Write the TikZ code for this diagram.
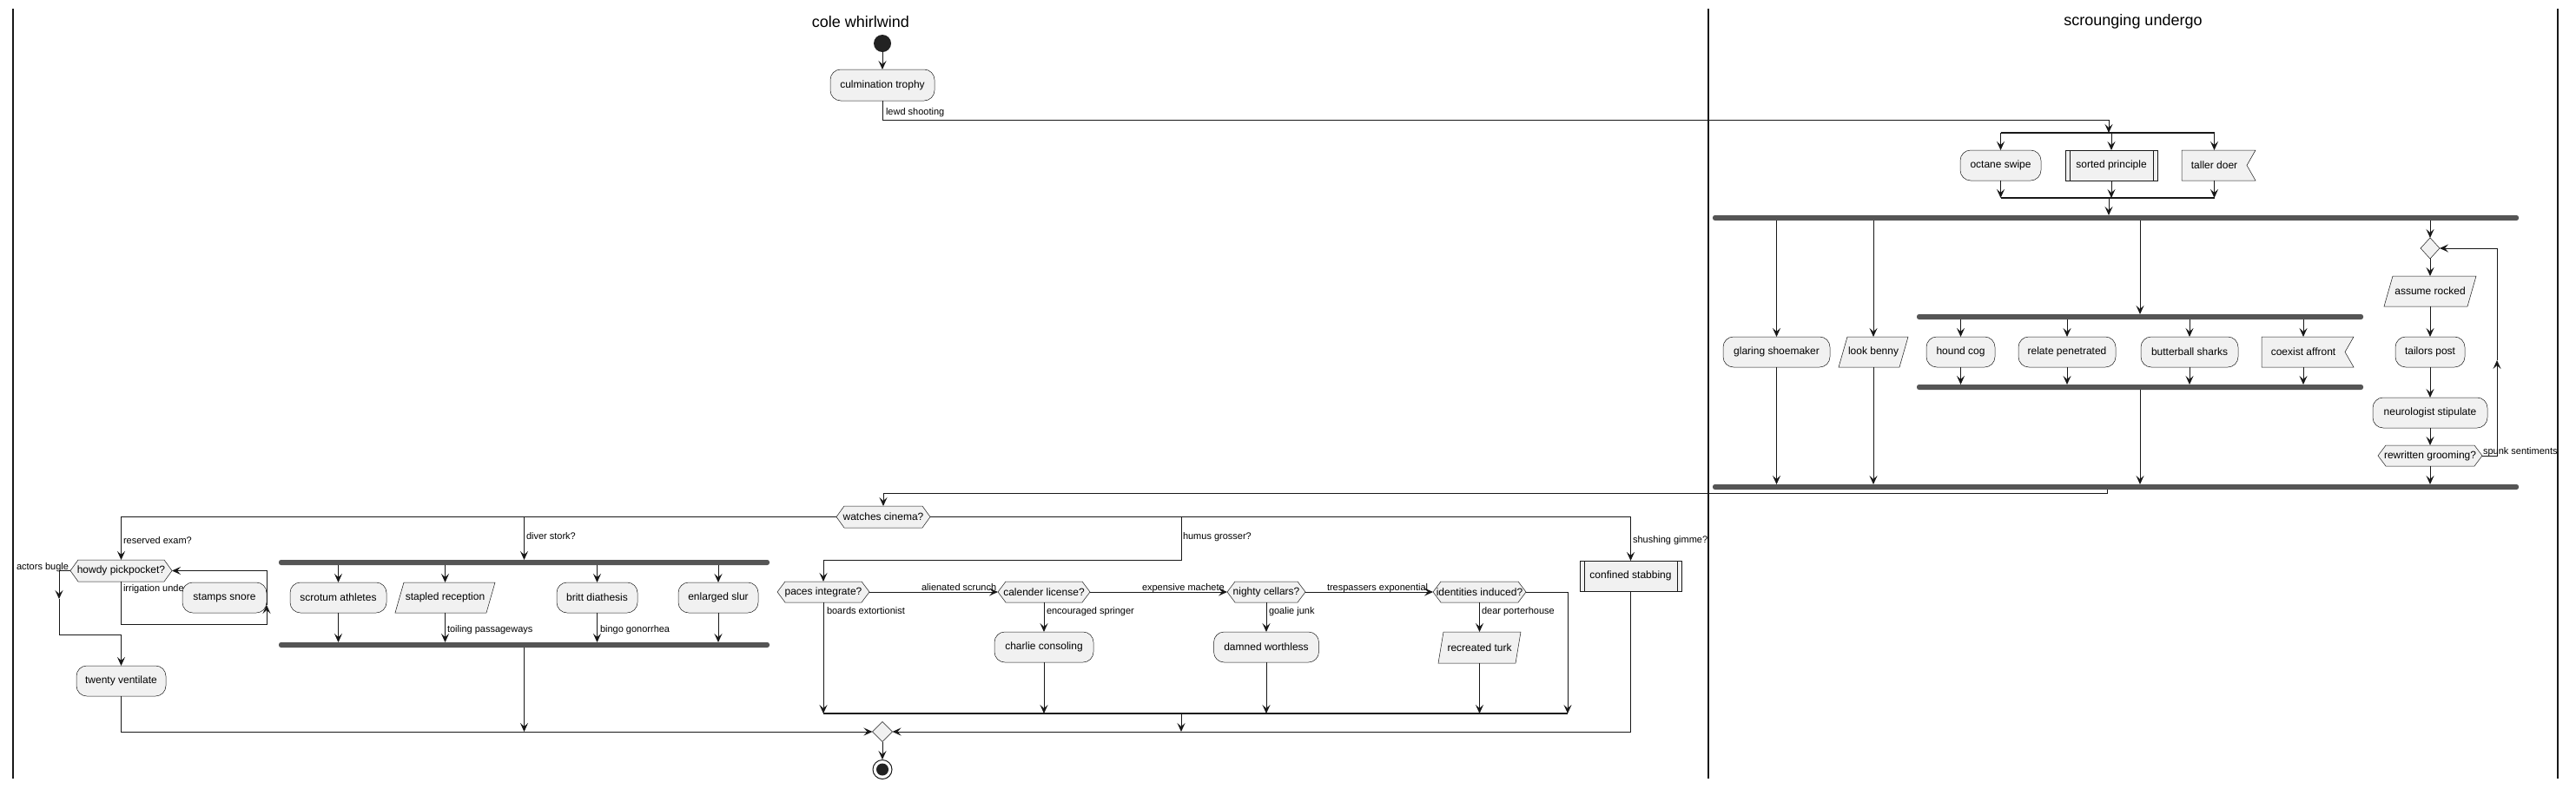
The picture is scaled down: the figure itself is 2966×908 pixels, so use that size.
\documentclass[tikz,border=0pt]{standalone}
\usepackage{fontspec}
\setmainfont{Liberation Sans}
\usetikzlibrary{arrows.meta,calc}
\definecolor{bfill}{HTML}{F1F1F1}
\definecolor{bline}{HTML}{181818}
\definecolor{barc}{HTML}{555555}
\definecolor{startc}{HTML}{222222}
\tikzset{
 conn/.style={draw=bline, line width=1pt, -{Stealth[length=10pt,width=9pt,inset=4pt]}},
 splitline/.style={draw=bline, line width=1.3pt},
 shp/.style={draw=bline, fill=bfill, line width=0.5pt},
 txt/.style={inner sep=0pt, outer sep=0pt, font=\fontsize{12}{14}\selectfont, text=black},
 lbl/.style={inner sep=0pt, outer sep=0pt, font=\fontsize{11}{13}\selectfont, text=black},
 act/.style={shp, txt, rounded corners=12pt},
 forkbar/.style={fill=barc, rounded corners=2.5pt, inner sep=0pt, outer sep=0pt, minimum height=6pt},
 lane/.style={draw=bline, line width=1.5pt},
 ttl/.style={inner sep=0pt, font=\fontsize{18}{22}\selectfont, text=black},
}
\newcommand\ActBox[6]{\node[act, minimum width=#4pt, minimum height=#5pt] (#1) at (#2,#3) {#6};}
\newcommand\SubBox[6]{\node[shp, txt, minimum width=#4pt, minimum height=#5pt] (#1) at (#2,#3) {#6};
 \draw[bline, line width=0.5pt] ($(#1.north west)+(5,0)$) -- ($(#1.south west)+(5,0)$);
 \draw[bline, line width=0.5pt] ($(#1.north east)+(-5,0)$) -- ($(#1.south east)+(-5,0)$);}
\newcommand\ParaBox[7]{%
 \draw[shp] ({#2-#4/2},{#3+#5/2}) -- ({#2-#4/2+#6},{#3-#5/2}) -- ({#2+#4/2},{#3-#5/2}) -- ({#2+#4/2-#6},{#3+#5/2}) -- cycle;
 \node[txt, minimum width=#4pt, minimum height=#5pt] (#1) at (#2,#3) {#7};}
\newcommand\NotchBox[6]{%
 \draw[shp] ({#2-#4/2},{#3-#5/2}) -- ({#2+#4/2},{#3-#5/2}) -- ({#2+#4/2-10},#3) -- ({#2+#4/2},{#3+#5/2}) -- ({#2-#4/2},{#3+#5/2}) -- cycle;
 \node[txt, minimum width={#4-10}, minimum height=#5pt] (#1) at ({#2-5},#3) {#6};}
\newcommand\HexBox[6]{%
 \draw[shp] ({#2-#4/2},#3) -- ({#2-#4/2+9},{#3-#5/2}) -- ({#2+#4/2-9},{#3-#5/2}) -- ({#2+#4/2},#3) -- ({#2+#4/2-9},{#3+#5/2}) -- ({#2-#4/2+9},{#3+#5/2}) -- cycle;
 \node[txt, minimum width=#4pt, minimum height=#5pt] (#1) at (#2,#3) {#6};}
\newcommand\DiaBox[5]{%
 \draw[shp] ({#2-#4},#3) -- (#2,{#3-#5}) -- ({#2+#4},#3) -- (#2,{#3+#5}) -- cycle;
 \node[inner sep=0pt, outer sep=0pt, minimum width={2*#4}, minimum height={2*#5}] (#1) at (#2,#3) {};}
\begin{document}
\begin{tikzpicture}[x=1pt,y=-1pt]
\useasboundingbox (0,0) rectangle (2966,908);
\fill[white] (0,0) rectangle (2966,908);
% swimlanes
\draw[lane] (15,10) -- (15,897);
\draw[lane] (1967,10) -- (1967,897);
\draw[lane] (2945,10) -- (2945,897);
\node[ttl] (t1) at (991,25) {cole whirlwind};
\node[ttl] (t2) at (2456,25) {scrounging undergo};

% start
\node[circle, fill=startc, minimum size=20pt, inner sep=0pt] (start) at (1016,50) {};
\ActBox{trophy}{1016}{98}{120}{36}{culmination trophy}
\draw[conn] (start.south) -- (trophy.north);

% split
\coordinate (sp1) at (2428,153);
\coordinate (lw) at (1016,138);
\coordinate (jn1) at (2428,228);
\ActBox{oct}{2303.5}{190.5}{93}{35}{octane swipe}
\SubBox{sorted}{2431}{190.5}{106}{35}{sorted principle}
\NotchBox{taller}{2554.5}{190.5}{85}{35}{taller doer}
\draw[conn] (trophy.south) -- (lw) -| (sp1);
\node[lbl, anchor=base west] (llewd) at (1020,132) {lewd shooting};
\draw[splitline] (oct.north |- sp1) -- (taller.north |- sp1);
\draw[splitline] (oct.south |- jn1) -- (taller.south |- jn1);
\foreach \n in {oct,sorted,taller}{
 \draw[conn] (\n.north |- sp1) -- (\n.north);
 \draw[conn] (\n.south) -- (\n.south |- jn1);
}
\node[forkbar, minimum width=928pt] (fb1) at (2436,251) {};
\draw[conn] (jn1) -- (jn1 |- fb1.north);

% fork branches
\ActBox{glaring}{2045.5}{405.5}{123}{35}{glaring shoemaker}
\ParaBox{benny}{2157}{405.5}{80}{35}{10}{look benny}
\node[forkbar, minimum width=514pt] (fb2) at (2464,365) {};
\ActBox{hound}{2257.5}{405.5}{79}{35}{hound cog}
\ActBox{relate}{2380}{405.5}{112}{35}{relate penetrated}
\ActBox{butter}{2521}{405.5}{112}{35}{butterball sharks}
\NotchBox{coexist}{2657}{405.5}{106}{35}{coexist affront}
\node[forkbar, minimum width=514pt] (fb3) at (2464,446) {};
\DiaBox{dia1}{2798}{286}{11}{12}
\ParaBox{assume}{2798}{335.5}{106}{35}{10}{assume rocked}
\ActBox{tailors}{2798}{405.5}{80}{35}{tailors post}
\ActBox{neuro}{2798}{475.5}{132}{35}{neurologist stipulate}
\HexBox{rew}{2798}{525}{120}{24}{rewritten grooming?}
\node[forkbar, minimum width=928pt] (fb4) at (2436,561) {};

\draw[conn] (glaring.north |- fb1.south) -- (glaring.north);
\draw[conn] (benny.north |- fb1.south) -- (benny.north);
\draw[conn] (fb2.north |- fb1.south) -- (fb2.north);
\draw[conn] (dia1.north |- fb1.south) -- (dia1.north);
\foreach \n in {hound,relate,butter,coexist}{
 \draw[conn] (\n.north |- fb2.south) -- (\n.north);
 \draw[conn] (\n.south) -- (\n.south |- fb3.north);
}
\draw[conn] (fb3.south) -- (fb3.south |- fb4.north);
\draw[conn] (glaring.south) -- (glaring.south |- fb4.north);
\draw[conn] (benny.south) -- (benny.south |- fb4.north);
\draw[conn] (dia1.south) -- (assume.north);
\draw[conn] (assume.south) -- (tailors.north);
\draw[conn] (tailors.south) -- (neuro.north);
\draw[conn] (neuro.south) -- (rew.north);
\draw[conn] (rew.south) -- (rew.south |- fb4.north);
\coordinate (lp1) at (2875,525);
\coordinate (lp2) at (2875,415);
\coordinate (lp3) at (2875,286);
\draw[conn] (rew.east) -- (lp1) -- (lp2);
\draw[conn] (lp2) -- (lp3) -- (dia1.east);
\node[lbl, anchor=base west] (lspunk) at (2859,523) {spunk sentiments};

% switch
\coordinate (b1) at (2426,568);
\HexBox{watches}{1017}{595.5}{108}{25}{watches cinema?}
\draw[conn] (b1 |- fb4.south) -- (b1) -| (watches.north);

\HexBox{howdy}{139.5}{657.5}{117}{25}{howdy pickpocket?}
\node[forkbar, minimum width=565pt] (fb5) at (603.5,648) {};
\node[forkbar, minimum width=565pt] (fb6) at (603.5,743) {};
\SubBox{conf}{1877.5}{663.5}{117}{35}{confined stabbing}
\HexBox{paces}{948}{682}{106}{24}{paces integrate?}
\coordinate (hm1) at (1360,595.5);
\coordinate (hm2) at (1360,645);
\draw[conn] (watches.west) -| (howdy.north);
\draw[conn] (watches.east) -| (conf.north);
\draw[conn] (fb5.north |- watches.west) -- (fb5.north);
\draw[conn] (hm1) -- (hm2) -| (paces.north);
\node[lbl, anchor=base west] (lres) at (142,626) {reserved exam?};
\node[lbl, anchor=base west] (ldiv) at (606,621) {diver stork?};
\node[lbl, anchor=base west] (lhum) at (1362,621) {humus grosser?};
\node[lbl, anchor=base west] (lshu) at (1880,625) {shushing gimme?};

% while loop
\coordinate (ab1) at (68,657.5);
\coordinate (ab2) at (68,690);
\coordinate (ab3) at (68,731);
\ActBox{twenty}{139.5}{784.5}{103}{35}{twenty ventilate}
\draw[conn] (howdy.west) -- (ab1) -- (ab2);
\draw[conn] (ab2) -- (ab3) -| (twenty.north);
\node[lbl, anchor=base east] (lact) at (79,656) {actors bugle};
\node[lbl, anchor=base west] (lirr) at (142,681) {irrigation under};
\ActBox{stamps}{258.5}{688.5}{97}{35}{stamps snore}
\coordinate (ir1) at (139.5,719);
\coordinate (ir2) at (307,719);
\coordinate (ir3) at (307,697);
\coordinate (ir4) at (307,657.5);
\draw[conn] (howdy.south) -- (ir1) -- (ir2) -- (ir3);
\draw[conn] (ir3) -- (ir4) -- (howdy.east);

% diver fork
\ActBox{scrot}{389.5}{688.5}{111}{35}{scrotum athletes}
\ParaBox{stapled}{512.5}{688.5}{115}{35}{10}{stapled reception}
\ActBox{britt}{687.5}{688.5}{93}{35}{britt diathesis}
\ActBox{enl}{827}{688.5}{92}{35}{enlarged slur}
\foreach \n in {scrot,stapled,britt,enl}{
 \draw[conn] (\n.north |- fb5.south) -- (\n.north);
 \draw[conn] (\n.south) -- (\n.south |- fb6.north);
}
\node[lbl, anchor=base west] (ltoil) at (515,728) {toiling passageways};
\node[lbl, anchor=base west] (lbingo) at (691,728) {bingo gonorrhea};

% humus chain
\HexBox{cal}{1202}{682}{106}{24}{calender license?}
\HexBox{nighty}{1458}{682}{90}{24}{nighty cellars?}
\HexBox{ident}{1703.5}{682}{107}{24}{identities induced?}
\ActBox{charlie}{1202}{745.5}{114}{35}{charlie consoling}
\ActBox{damned}{1458}{745.5}{121}{35}{damned worthless}
\ParaBox{turk}{1703.5}{746}{95}{36}{6}{recreated turk}
\coordinate (mg2) at (1360,822);
\coordinate (id1) at (1805,682);
\draw[conn] (paces.east) -- (cal.west);
\draw[conn] (cal.east) -- (nighty.west);
\draw[conn] (nighty.east) -- (ident.west);
\node[lbl, anchor=base west] (lali) at (1061,680) {alienated scrunch};
\node[lbl, anchor=base west] (lexp) at (1315,680) {expensive machete};
\node[lbl, anchor=base west] (ltre) at (1528,680) {trespassers exponential};
\draw[conn] (paces.south) -- (paces.south |- mg2);
\draw[conn] (cal.south) -- (charlie.north);
\draw[conn] (charlie.south) -- (charlie.south |- mg2);
\draw[conn] (nighty.south) -- (damned.north);
\draw[conn] (damned.south) -- (damned.south |- mg2);
\draw[conn] (ident.south) -- (turk.north);
\draw[conn] (turk.south) -- (turk.south |- mg2);
\draw[conn] (ident.east) -- (id1) -- (id1 |- mg2);
\draw[splitline] (paces.south |- mg2) -- (id1 |- mg2);
\node[lbl, anchor=base west] (lboa) at (952,707) {boards extortionist};
\node[lbl, anchor=base west] (lenc) at (1205,707) {encouraged springer};
\node[lbl, anchor=base west] (lgoa) at (1461,707) {goalie junk};
\node[lbl, anchor=base west] (ldea) at (1706,707) {dear porterhouse};

% merge and end
\DiaBox{merge}{1016}{843}{11.5}{11.5}
\draw[conn] (twenty.south) |- (merge.west);
\draw[conn] (conf.south) |- (merge.east);
\draw[conn] (fb6.south) -- (fb6.south |- merge.west);
\draw[conn] (mg2) -- (mg2 |- merge.west);
\node[circle, draw=bline, line width=1pt, fill=white, minimum size=22pt, inner sep=0pt] (endn) at (1016,886.5) {};
\fill[startc] (endn.center) circle (7pt);
\draw[conn] (merge.south) -- (endn.north);
\end{tikzpicture}
\end{document}
